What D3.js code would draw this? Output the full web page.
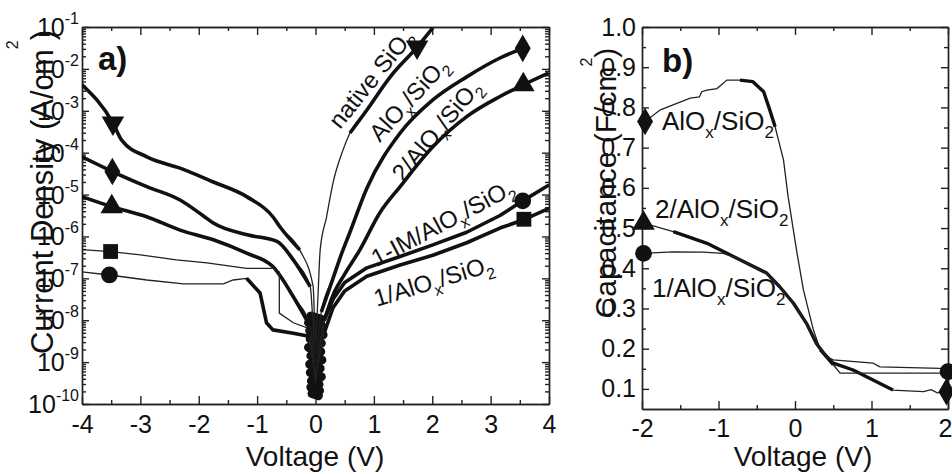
<!DOCTYPE html>
<html>
<head>
<meta charset="utf-8">
<script src="https://cdn.jsdelivr.net/npm/d3@7"></script>
<style>
  body { margin: 0; background: #fff; }
  svg { display: block; font-family: "Liberation Sans", Arial, sans-serif; }
  .axis path, .axis line { stroke: #222; stroke-width: 1.4; }
  .axis text { font-size: 25px; fill: #111; font-family: "Liberation Sans", Arial, sans-serif; }
</style>
</head>
<body>
<svg id="chart" width="952" height="474"></svg>
<script>
// ---- panel a: current density vs voltage (values are log10 of J in A/cm2)
const nativeV = [-4.0, -3.47, -3.32, -2.89, -2.32, -1.75, -1.18, -0.73, -0.61, -0.27, -0.04, 0.0, 0.04, 0.08, 0.19, 0.30, 0.47, 0.59, 0.88, 1.28, 1.74, 2.01];
const nativeLogJ = [-2.38, -3.29, -3.70, -4.10, -4.37, -4.70, -5.05, -5.53, -5.77, -6.32, -7.2, -8.5, -7.5, -6.32, -5.53, -4.72, -3.94, -3.53, -2.98, -2.19, -1.48, -1.02];

const alV = [-4.0, -3.48, -2.89, -2.32, -1.93, -1.75, -1.17, -0.66, -0.38, -0.09, 0.0, 0.1, 0.3, 0.45, 0.59, 0.88, 1.45, 2.01, 2.59, 3.16, 3.55];
const alLogJ = [-4.10, -4.45, -4.81, -5.13, -5.50, -5.68, -5.96, -6.12, -6.56, -7.2, -8.8, -7.8, -7.0, -6.4, -5.9, -4.85, -3.53, -2.74, -2.19, -1.74, -1.51];

const twoV = [-4.0, -3.49, -2.89, -2.32, -1.75, -1.18, -0.73, -0.38, -0.09, 0.0, 0.15, 0.3, 0.5, 0.76, 1.10, 1.45, 2.01, 2.59, 3.16, 3.56, 3.99];
const twoLogJ = [-5.05, -5.29, -5.53, -5.85, -6.08, -6.40, -6.72, -7.44, -8.15, -9.0, -8.0, -7.4, -6.9, -6.32, -5.44, -4.81, -3.86, -3.14, -2.66, -2.38, -2.10];

const oneV = [-4.03, -3.51, -3.0, -2.38, -1.86, -1.18, -0.73, -0.62, -0.62, -0.38, -0.15, 0.0, 0.05, 0.15, 0.3, 0.5, 0.88, 1.45, 2.01, 2.59, 3.16, 3.57, 4.0];
const oneLogJ = [-6.31, -6.36, -6.44, -6.56, -6.63, -6.76, -6.76, -6.85, -7.83, -8.06, -8.18, -9.3, -9.0, -8.3, -7.7, -7.3, -6.95, -6.68, -6.45, -6.15, -5.8, -5.6, -5.33];

const imV = [-4.03, -3.53, -2.89, -2.26, -1.58, -1.41, -1.18, -0.95, -0.84, -0.73, -0.38, -0.09, 0.0, 0.05, 0.15, 0.3, 0.5, 0.88, 1.45, 2.01, 2.59, 3.16, 3.55, 4.0];
const imLogJ = [-6.84, -6.92, -7.04, -7.13, -7.13, -7.04, -7.0, -7.35, -8.06, -8.23, -8.31, -8.39, -9.5, -8.8, -8.0, -7.5, -7.1, -6.75, -6.48, -6.2, -5.9, -5.5, -5.15, -4.77];

// noisy low-current region around 0 V
const noiseV = [-0.08, 0.1, -0.12, 0.11, -0.1, 0.13, -0.09, 0.1, -0.12, 0.09, -0.08, 0.11, -0.1, 0.08, -0.09, 0.1, -0.07, 0.06, -0.08, 0.07, -0.06, 0.05];
const noiseLogJ = [-7.9, -7.98, -8.06, -8.14, -8.25, -8.35, -8.45, -8.55, -8.65, -8.75, -8.85, -8.95, -9.05, -9.15, -9.25, -9.35, -9.45, -9.53, -9.6, -9.68, -9.75, -9.8];

// markers: [V, log10 J]
const nativeMarks = [[-3.47, -3.29], [1.74, -1.48]];
const alMarks = [[-3.48, -4.45], [3.55, -1.51]];
const twoMarks = [[-3.49, -5.29], [3.56, -2.38]];
const oneMarks = [[-3.51, -6.36], [3.57, -5.59]];
const imMarks = [[-3.53, -6.92], [3.55, -5.15]];

const xTicksA = [-4, -3, -2, -1, 0, 1, 2, 3, 4];
const yExpA = [-1, -2, -3, -4, -5, -6, -7, -8, -9, -10];

// ---- panel b: capacitance vs voltage
const capAlV = [-1.96, -1.76, -1.37, -1.25, -1.22, -1.15, -1.02, -0.89, -0.72, -0.55, -0.41, -0.33, -0.26, -0.15, -0.09, 0.02, 0.11, 0.24, 0.33, 0.50, 0.76, 1.02, 1.28, 1.68, 1.78, 1.86, 1.98];
const capAlC = [0.765, 0.794, 0.823, 0.826, 0.839, 0.843, 0.847, 0.868, 0.868, 0.864, 0.839, 0.794, 0.752, 0.669, 0.578, 0.445, 0.346, 0.247, 0.197, 0.164, 0.147, 0.122, 0.097, 0.093, 0.098, 0.090, 0.093];

const capTwoV = [-1.98, -1.59, -1.15, -0.72, -0.37, -0.20, -0.02, 0.15, 0.28, 0.41, 0.50, 0.59, 1.0, 1.5, 2.0];
const capTwoC = [0.512, 0.491, 0.462, 0.421, 0.388, 0.354, 0.313, 0.263, 0.213, 0.180, 0.160, 0.139, 0.139, 0.139, 0.139];

const capOneV = [-1.98, -1.6, -1.2, -0.94, -0.81, -0.72, -0.37, -0.20, -0.02, 0.15, 0.28, 0.41, 0.50, 1.02, 1.11, 1.9, 2.0];
const capOneC = [0.437, 0.441, 0.440, 0.437, 0.429, 0.421, 0.388, 0.354, 0.313, 0.263, 0.213, 0.180, 0.172, 0.164, 0.155, 0.151, 0.143];

const capAlMarks = [[-1.96, 0.765], [1.98, 0.093]];
const capTwoMarks = [[-1.98, 0.512]];
const capOneMarks = [[-1.98, 0.437], [2.0, 0.143]];

const xTicksB = [-2, -1, 0, 1, 2];
const yTicksB = [0.1, 0.2, 0.3, 0.4, 0.5, 0.6, 0.7, 0.8, 0.9, 1.0];

const svg = d3.select("#chart");

function richText(g, parts, size, subSize, subShift) {
  const t = g.append("text").style("font-size", size + "px").attr("fill", "#111");
  let shift = 0;
  parts.forEach(([s, kind]) => {
    const target = kind === "sub" ? subShift : kind === "sup" ? -subShift : 0;
    const sp = t.append("tspan").text(s).attr("dy", target - shift);
    if (kind) sp.style("font-size", subSize + "px");
    shift = target;
  });
  return t;
}

function zip(a, b) {
  return a.map((v, i) => [v, b[i]]);
}

function drawPanelA() {
  const x = d3.scaleLinear().domain([-4, 4]).range([82, 549]);
  const y = d3.scaleLog().domain([1e-10, 1e-1]).range([404, 27]);
  const g = svg.append("g");

  g.append("clipPath").attr("id", "clipA").append("rect")
    .attr("x", 82).attr("y", 27).attr("width", 467).attr("height", 377);

  const minorY = [];
  for (let e = -10; e < -1; e++) for (let m = 2; m <= 9; m++) minorY.push(m * Math.pow(10, e));
  const halfX = d3.range(-3.5, 4, 1);

  g.append("g").attr("class", "axis").attr("transform", "translate(0,404)")
    .call(d3.axisBottom(x).tickValues(xTicksA).tickSize(-8).tickSizeOuter(0).tickPadding(11).tickFormat((d) => String(d)));
  g.append("g").attr("class", "axis").attr("transform", "translate(0,404)")
    .call(d3.axisBottom(x).tickValues(halfX).tickSize(-4).tickSizeOuter(0).tickFormat(""));
  g.append("g").attr("class", "axis").attr("transform", "translate(0,27)")
    .call(d3.axisTop(x).tickValues(xTicksA).tickSize(-8).tickSizeOuter(0).tickFormat(""));
  g.append("g").attr("class", "axis").attr("transform", "translate(0,27)")
    .call(d3.axisTop(x).tickValues(halfX).tickSize(-4).tickSizeOuter(0).tickFormat(""));

  const majorY = yExpA.map((e) => Math.pow(10, e));
  [[d3.axisLeft, 82], [d3.axisRight, 549]].forEach(([ax, pos]) => {
    g.append("g").attr("class", "axis").attr("transform", `translate(${pos},0)`)
      .call(ax(y).tickValues(majorY).tickSize(-7).tickSizeOuter(0).tickFormat(""));
    g.append("g").attr("class", "axis").attr("transform", `translate(${pos},0)`)
      .call(ax(y).tickValues(minorY).tickSize(-4).tickSizeOuter(0).tickFormat(""));
  });

  // 10^n tick labels
  yExpA.forEach((e) => {
    const t = g.append("text").attr("x", 79).attr("y", y(Math.pow(10, e)) + 9)
      .attr("text-anchor", "end").attr("fill", "#111").style("font-size", "25px");
    t.append("tspan").text("10");
    t.append("tspan").text(String(e)).attr("dy", -12).style("font-size", "16px");
  });

  const clip = g.append("g").attr("clip-path", "url(#clipA)");
  const line = d3.line().x((d) => x(d[0])).y((d) => y(Math.pow(10, d[1])));
  const smooth = d3.line().x((d) => x(d[0])).y((d) => y(Math.pow(10, d[1]))).curve(d3.curveMonotoneX);

  const series = [
    { pts: zip(nativeV, nativeLogJ), gen: smooth, thick: [[-4, -0.2], [0.55, 2.1]], marks: nativeMarks, sym: d3.symbolTriangle, rot: 180 },
    { pts: zip(alV, alLogJ), gen: smooth, thick: [[-4, -0.05], [0.1, 3.6]], marks: alMarks, sym: d3.symbolDiamond, rot: 0 },
    { pts: zip(twoV, twoLogJ), gen: smooth, thick: [[-4, -0.05], [0.1, 4]], marks: twoMarks, sym: d3.symbolTriangle, rot: 0 },
    { pts: zip(oneV, oneLogJ), gen: line, thick: [[0.1, 4]], marks: oneMarks, sym: d3.symbolSquare, rot: 0 },
    { pts: zip(imV, imLogJ), gen: line, thick: [[-1.2, -0.05], [0.1, 4]], marks: imMarks, sym: d3.symbolCircle, rot: 0 },
  ];

  clip.append("path").attr("d", line(zip(noiseV, noiseLogJ)))
    .attr("fill", "none").attr("stroke", "#111").attr("stroke-width", 9)
    .attr("stroke-linejoin", "round").attr("stroke-linecap", "round");

  series.forEach((s) => {
    clip.append("path").attr("d", s.gen(s.pts)).attr("fill", "none")
      .attr("stroke", "#222").attr("stroke-width", 1.3);
    s.thick.forEach(([a, b]) => {
      clip.append("path").attr("d", s.gen(s.pts.filter((p) => p[0] >= a && p[0] <= b)))
        .attr("fill", "none").attr("stroke", "#111").attr("stroke-width", 3.6)
        .attr("stroke-linejoin", "round");
    });
    g.selectAll(null).data(s.marks).join("path")
      .attr("d", d3.symbol().type(s.sym).size(220))
      .attr("transform", (d) => `translate(${x(d[0])},${y(Math.pow(10, d[1]))}) rotate(${s.rot})`)
      .attr("fill", "#111");
  });

  // curve labels
  const labels = [
    { at: [0.42, -3.46], ang: -51, parts: [["native SiO", null], ["2", "sub"]] },
    { at: [1.10, -3.77], ang: -47.6, parts: [["AlO", null], ["x", "sub"], ["/SiO", null], ["2", "sub"]] },
    { at: [1.50, -4.72], ang: -50, parts: [["2/AlO", null], ["x", "sub"], ["/SiO", null], ["2", "sub"]] },
    { at: [1.05, -6.73], ang: -28, parts: [["1-IM/AlO", null], ["x", "sub"], ["/SiO", null], ["2", "sub"]] },
    { at: [1.05, -7.68], ang: -17, parts: [["1/AlO", null], ["x", "sub"], ["/SiO", null], ["2", "sub"]] },
  ];
  labels.forEach((l) => {
    const lg = g.append("g").attr("transform", `translate(${x(l.at[0])},${y(Math.pow(10, l.at[1]))}) rotate(${l.ang})`);
    richText(lg, l.parts, 24, 16, 7);
  });

  g.append("text").attr("x", 98).attr("y", 70).text("a)")
    .style("font-size", "33px").style("font-weight", "bold").attr("fill", "#111");

  g.append("text").attr("x", 315).attr("y", 466).attr("text-anchor", "middle")
    .style("font-size", "28px").attr("fill", "#111").text("Voltage (V)");

  const yt = g.append("text").attr("transform", "translate(53,192) rotate(-90)")
    .attr("text-anchor", "middle").style("font-size", "31px").attr("fill", "#111");
  yt.append("tspan").text("Current Density (A/cm");
  yt.append("tspan").text("2").attr("dy", -35).style("font-size", "16px");
  yt.append("tspan").text(")").attr("dy", 35);
}

function drawPanelB() {
  const x = d3.scaleLinear().domain([-2, 2]).range([642, 948]);
  const y = d3.scaleLinear().domain([0.05, 1.0]).range([409, 27]);
  const g = svg.append("g");

  const halfX = d3.range(-1.5, 2, 1);
  const halfY = d3.range(0.15, 1.0, 0.1);

  const bottom = g.append("g").attr("class", "axis").attr("transform", "translate(0,409)")
    .call(d3.axisBottom(x).tickValues(xTicksB).tickSize(-8).tickSizeOuter(0).tickPadding(10).tickFormat((d) => String(d)));
  // keep the last label inside the page edge
  bottom.selectAll(".tick text").filter((d) => d === 2).attr("text-anchor", "end").attr("x", 4);
  g.append("g").attr("class", "axis").attr("transform", "translate(0,409)")
    .call(d3.axisBottom(x).tickValues(halfX).tickSize(-4).tickSizeOuter(0).tickFormat(""));
  g.append("g").attr("class", "axis").attr("transform", "translate(0,27)")
    .call(d3.axisTop(x).tickValues(xTicksB).tickSize(-8).tickSizeOuter(0).tickFormat(""));
  g.append("g").attr("class", "axis").attr("transform", "translate(0,27)")
    .call(d3.axisTop(x).tickValues(halfX).tickSize(-4).tickSizeOuter(0).tickFormat(""));
  g.append("g").attr("class", "axis").attr("transform", "translate(642,0)")
    .call(d3.axisLeft(y).tickValues(yTicksB).tickSize(-7).tickSizeOuter(0).tickPadding(6).tickFormat(d3.format(".1f")));
  g.append("g").attr("class", "axis").attr("transform", "translate(642,0)")
    .call(d3.axisLeft(y).tickValues(halfY).tickSize(-4).tickSizeOuter(0).tickFormat(""));
  g.append("g").attr("class", "axis").attr("transform", "translate(948,0)")
    .call(d3.axisRight(y).tickValues(yTicksB).tickSize(-7).tickSizeOuter(0).tickFormat(""));
  g.append("g").attr("class", "axis").attr("transform", "translate(948,0)")
    .call(d3.axisRight(y).tickValues(halfY).tickSize(-4).tickSizeOuter(0).tickFormat(""));

  const line = d3.line().x((d) => x(d[0])).y((d) => y(d[1]));

  const series = [
    { pts: zip(capAlV, capAlC), thick: [[-0.72, -0.26], [0.33, 1.3]], marks: capAlMarks, sym: d3.symbolDiamond },
    { pts: zip(capTwoV, capTwoC), thick: [[-1.6, 0.5]], marks: capTwoMarks, sym: d3.symbolTriangle },
    { pts: zip(capOneV, capOneC), thick: [], marks: capOneMarks, sym: d3.symbolCircle },
  ];
  series.forEach((s) => {
    g.append("path").attr("d", line(s.pts)).attr("fill", "none")
      .attr("stroke", "#222").attr("stroke-width", 1.3);
    s.thick.forEach(([a, b]) => {
      g.append("path").attr("d", line(s.pts.filter((p) => p[0] >= a && p[0] <= b)))
        .attr("fill", "none").attr("stroke", "#111").attr("stroke-width", 3.4)
        .attr("stroke-linejoin", "round");
    });
    g.selectAll(null).data(s.marks).join("path")
      .attr("d", d3.symbol().type(s.sym).size(220))
      .attr("transform", (d) => `translate(${x(d[0])},${y(d[1])})`)
      .attr("fill", "#111");
  });

  const labels = [
    { pos: [662, 130], parts: [["AlO", null], ["x", "sub"], ["/SiO", null], ["2", "sub"]] },
    { pos: [655, 218], parts: [["2/AlO", null], ["x", "sub"], ["/SiO", null], ["2", "sub"]] },
    { pos: [652, 297], parts: [["1/AlO", null], ["x", "sub"], ["/SiO", null], ["2", "sub"]] },
  ];
  labels.forEach((l) => {
    richText(g, l.parts, 26, 17, 8).attr("x", l.pos[0]).attr("y", l.pos[1]);
  });

  g.append("text").attr("x", 662).attr("y", 72).text("b)")
    .style("font-size", "33px").style("font-weight", "bold").attr("fill", "#111");

  g.append("text").attr("x", 803).attr("y", 466).attr("text-anchor", "middle")
    .style("font-size", "28px").attr("fill", "#111").text("Voltage (V)");

  const yt = g.append("text").attr("transform", "translate(616,183) rotate(-90)")
    .attr("text-anchor", "middle").style("font-size", "30px").attr("fill", "#111");
  yt.append("tspan").text("Capacitance (F/cm");
  yt.append("tspan").text("2").attr("dy", -24).style("font-size", "16px");
  yt.append("tspan").text(")").attr("dy", 24);
}

drawPanelA();
drawPanelB();
</script>
</body>
</html>
